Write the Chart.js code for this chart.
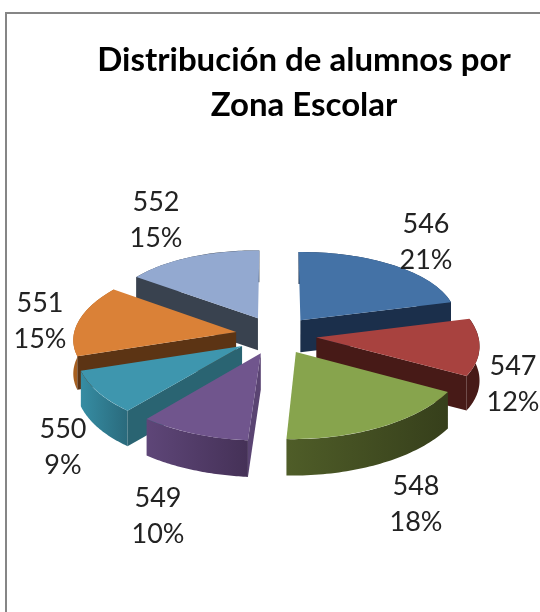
<!DOCTYPE html>
<html><head><meta charset="utf-8">
<style>html,body{margin:0;padding:0;background:#fff}canvas{display:block}</style>
<script src="https://cdn.jsdelivr.net/npm/chart.js@4"></script>
</head><body><canvas id="c" width="540" height="612"></canvas>
<script>
const categories = ['546','547','548','549','550','551','552'];
const values = [21,12,18,10,9,15,15];
const percentLabels = ['21%','12%','18%','10%','9%','15%','15%'];
const titleLines = ['Distribución de alumnos por','Zona Escolar'];
const topColors = ['#4472a6','#a8423f','#87a44d','#70558d','#3e96ae','#da8137','#93a9d0'];
const wallColors = ['#1b2f4b','#471a17','#37411c','#5a4472','#2a6472','#5c3414','#39424f'];
const rimLeft = ['#1b2f4b','#471a17','#4f5d28','#5e4678','#368da3','#a65f20','#39424f'];
const rimRight = ['#1b2f4b','#471a17','#363f1b','#453157','#2a6a7c','#a65f20','#39424f'];
const labelCenters = [[426,242],[513,384],[416,504],[158,516],[63,447],[40,321],[156,220]];
// camera of the tilted, exploded pie
const cam = {cx:276, cy:335, ax:162, ay:76.5, k:0.0866, explode:0.25, depth:34, depthK:0.3};

function project(X, Z){
  const w = 1 + cam.k*Z;
  return [cam.cx + cam.ax*X/w, cam.cy - cam.ay*Z/w];
}
function poseOf(arc){
  const t0 = arc.startAngle + Math.PI/2, t1 = arc.endAngle + Math.PI/2, mid = (t0+t1)/2;
  const ex = cam.explode*Math.sin(mid), ez = cam.explode*Math.cos(mid);
  const D0 = project(ex,ez);
  const D1 = project(ex+Math.sin(t0), ez+Math.cos(t0));
  const D2 = project(ex+Math.sin(t1), ez+Math.cos(t1));
  const R = arc.outerRadius;
  const u1 = R*Math.sin(t0), v1 = -R*Math.cos(t0), u2 = R*Math.sin(t1), v2 = -R*Math.cos(t1);
  const det = u1*v2 - u2*v1;
  const a = ((D1[0]-D0[0])*v2 - (D2[0]-D0[0])*v1)/det;
  const c = ((D2[0]-D0[0])*u1 - (D1[0]-D0[0])*u2)/det;
  const b = ((D1[1]-D0[1])*v2 - (D2[1]-D0[1])*v1)/det;
  const d = ((D2[1]-D0[1])*u1 - (D1[1]-D0[1])*u2)/det;
  const depth = cam.depth/(1 + cam.depthK*ez);
  return {a,b,c,d,D0,D1,D2,t0,t1,mid,R,depth,
    map(t){const u=R*Math.sin(t),v=-R*Math.cos(t);return [D0[0]+a*u+c*v,D0[1]+b*u+d*v];}};
}
const pie3d = {
  id:'pie3d',
  beforeDatasetsDraw(chart){
    const ctx = chart.ctx;
    const arcs = chart.getDatasetMeta(0).data;
    const order = arcs.map((arc,i)=>({arc,i,p:poseOf(arc)}))
      .sort((m,n)=>Math.cos(n.p.mid)-Math.cos(m.p.mid));
    for(const {arc,i,p} of order){
      // outer rim
      const pts=[]; const n=48;
      for(let s=0;s<=n;s++) pts.push(p.map(p.t0+(p.t1-p.t0)*s/n));
      const xs=pts.map(q=>q[0]);
      const g=ctx.createLinearGradient(Math.min(...xs),0,Math.max(...xs),0);
      g.addColorStop(0,rimLeft[i]); g.addColorStop(1,rimRight[i]);
      ctx.beginPath();
      pts.forEach((q,s)=>s?ctx.lineTo(q[0],q[1]):ctx.moveTo(q[0],q[1]));
      for(let s=n;s>=0;s--) ctx.lineTo(pts[s][0],pts[s][1]+p.depth);
      ctx.closePath(); ctx.fillStyle=g; ctx.fill();
      // radial wall facing the viewer
      const wall=(E)=>{
        ctx.beginPath();
        ctx.moveTo(p.D0[0],p.D0[1]); ctx.lineTo(E[0],E[1]);
        ctx.lineTo(E[0],E[1]+p.depth); ctx.lineTo(p.D0[0],p.D0[1]+p.depth);
        ctx.closePath(); ctx.fillStyle=wallColors[i]; ctx.fill();
      };
      if(p.t1<Math.PI) wall(p.D2);
      if(p.t0>Math.PI) wall(p.D1);
      // top face: the library's own arc element, under the slice's pose
      ctx.save();
      ctx.transform(p.a,p.b,p.c,p.d,p.D0[0]-p.a*arc.x-p.c*arc.y,p.D0[1]-p.b*arc.x-p.d*arc.y);
      arc.draw(ctx);
      ctx.restore();
    }
    return false;
  },
  beforeDraw(chart){
    const ctx=chart.ctx;
    ctx.save();
    ctx.fillStyle='#fff'; ctx.fillRect(0,0,540,612);
    ctx.strokeStyle='#868686'; ctx.lineWidth=2;
    ctx.beginPath(); ctx.moveTo(6,612); ctx.lineTo(6,13); ctx.lineTo(540,13); ctx.stroke();
    ctx.restore();
  },
  afterDraw(chart){
    const ctx=chart.ctx;
    ctx.save();
    ctx.font='27px Lato'; ctx.fillStyle='#222'; ctx.textAlign='center'; ctx.textBaseline='middle';
    categories.forEach((c,i)=>{
      const [x,y]=labelCenters[i];
      ctx.fillText(c,x,y-18);
      ctx.fillText(percentLabels[i],x,y+18);
    });
    ctx.restore();
  }
};
new Chart(document.getElementById('c'),{
  type:'pie',
  data:{labels:categories,datasets:[{data:values,backgroundColor:topColors,borderWidth:0}]},
  options:{
    responsive:false,animation:false,
    layout:{padding:{left:68,top:0}},
    plugins:{
      legend:{display:false},tooltip:{enabled:false},
      title:{display:true,text:titleLines,fullSize:false,color:'#000',
        font:{family:'Lato',size:33,weight:'bold',lineHeight:1.36},
        padding:{top:38,bottom:10}}
    }
  },
  plugins:[pie3d]
});
</script></body></html>
